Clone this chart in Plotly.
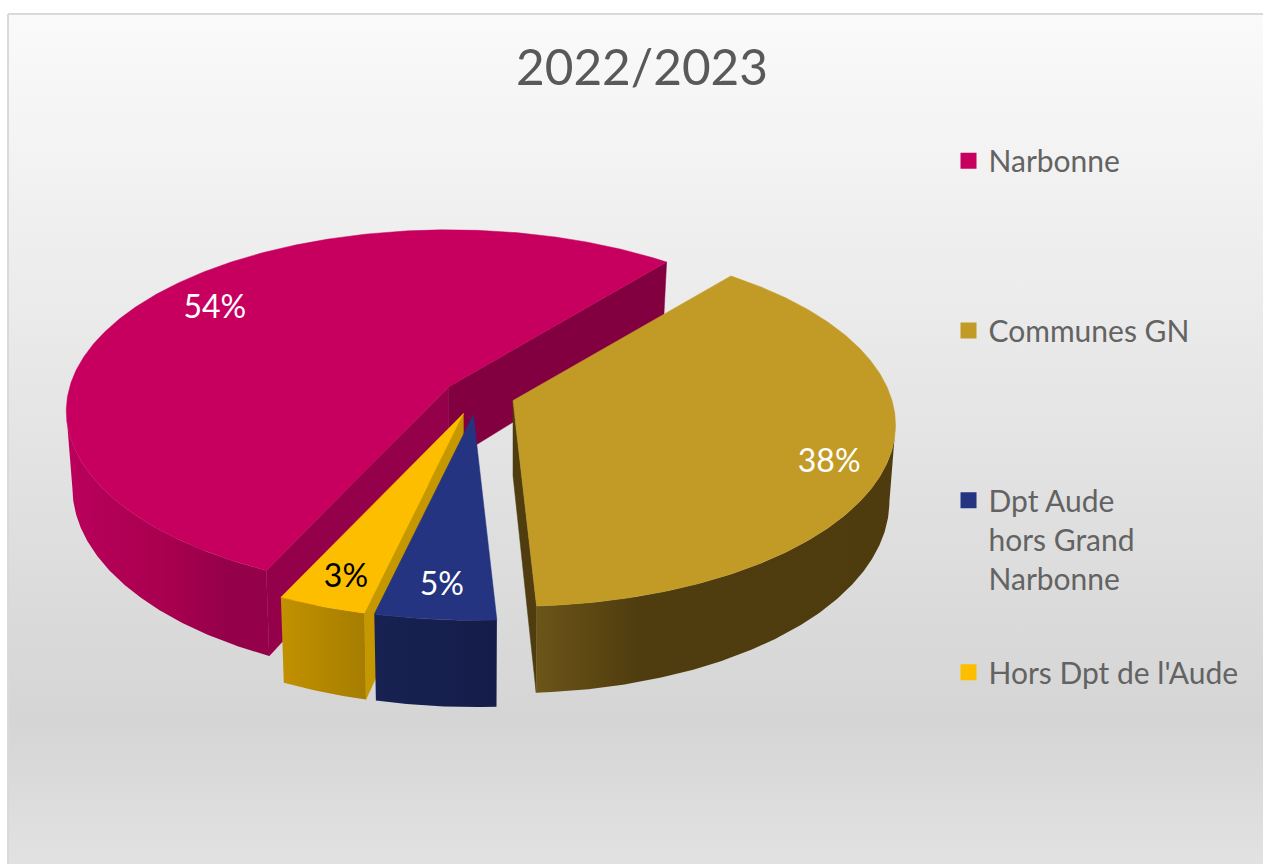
import math
import numpy as np
import plotly.graph_objects as go

# ---- data ----
TITLE = "2022/2023"
categories = ["Narbonne", "Communes GN", "Dpt Aude<br>hors Grand<br>Narbonne", "Hors Dpt de l'Aude"]
values = [54.0, 38.2, 4.5, 3.3]
labels = ["54%", "38%", "5%", "3%"]

# ---- styles ----
top_colors = ["#C70060", "#C29B27", "#253481", "#FDBE00"]
label_colors = ["white", "white", "white", "black"]
pull = [0.088, 0.10, 0.11, 0.11]
label_angle = [305.0, 113.0, 184.9, 198.4]
label_radius = [0.80, 0.865, 0.862, 0.872]
cut_colors = {
    0: {"start": "#95004A", "end": "#82003F"},
    1: {"start": None, "end": "#4F3C0F"},
    2: {"start": None, "end": None},
    3: {"start": "#C69800", "end": None},
}
wall_scales = [
    [[0, "#BA005C"], [0.5, "#A8004F"], [0.8, "#95004A"], [1, "#95004A"]],
    [[0, "#6C5518"], [0.28, "#503D0F"], [1, "#4E3B0E"]],
    [[0, "#182252"], [1, "#141D49"]],
    [[0, "#C29100"], [1, "#A67D00"]],
]
draw_order = [0, 1, 3, 2]

START = 205.0        # first slice angle, degrees clockwise from the back
CX, CY = 477.0, 395.0
A, B, K = 379.0, 178.0, 0.135   # disc half-axes and perspective strength
H = 75.0             # thickness
SHRINK = 0.016       # bottom face is a little further away


def project(apex, X, Y, z=0.0):
    w = 1 - K * Y
    return (apex[0] + A * X / w * (1 - SHRINK * z),
            apex[1] + (B * Y + H * z) / w)


def disc(deg):
    r = math.radians(deg)
    return math.sin(r), -math.cos(r)


total = sum(values)
edges = [START]
for v in values:
    edges.append(edges[-1] + 360.0 * v / total)

fig = go.Figure()

# panel background with vertical gradient (stop 0 is the bottom of the panel)
fig.add_trace(go.Scatter(
    x=[8, 1265, 1265, 8, 8], y=[14, 14, 866, 866, 14], mode="lines", fill="toself",
    line=dict(color="#D9D9D9", width=2),
    fillgradient=dict(type="vertical",
                      colorscale=[[0, "#E2E2E2"], [0.17, "#D5D5D5"], [0.31, "#DBDBDB"],
                                  [0.66, "#EBEBEB"], [1, "#FAFAFA"]]),
    hoverinfo="skip", showlegend=False))

label_x, label_y = [], []
apexes = {}
for i in range(len(values)):
    a0, a1 = edges[i], edges[i + 1]
    mx, my = disc((a0 + a1) / 2)
    apexes[i] = (CX + A * pull[i] * mx, CY + B * pull[i] * my)
    lx, ly = disc(label_angle[i])
    px, py = project(apexes[i], lx * label_radius[i], ly * label_radius[i])
    label_x.append(px)
    label_y.append(py)


def poly(xs, ys, color=None, scale=None):
    kw = dict(x=xs, y=ys, mode="lines", fill="toself", hoverinfo="skip", showlegend=False)
    if scale is not None:
        kw["fillgradient"] = dict(type="horizontal", colorscale=scale)
        kw["line"] = dict(width=0, color="rgba(0,0,0,0)")
    else:
        kw["fillcolor"] = color
        kw["line"] = dict(width=0.5, color=color)
    fig.add_trace(go.Scatter(**kw))


for i in draw_order:
    a0, a1 = edges[i], edges[i + 1]
    apex = apexes[i]
    # flat cut faces that turn towards the viewer
    for key, ang in (("start", a0), ("end", a1)):
        col = cut_colors[i][key]
        if col is None:
            continue
        X, Y = disc(ang)
        pts = [project(apex, 0, 0), project(apex, X, Y), project(apex, X, Y, 1), project(apex, 0, 0, 1)]
        poly([p[0] for p in pts] + [pts[0][0]], [p[1] for p in pts] + [pts[0][1]], color=col)
    # outer rim: stops where the disc reaches its widest point on screen (the silhouette)
    arc = np.arange(a0, a1 + 0.25, 0.5)
    arc = np.append(arc[arc < a1], a1)
    front = [d for d in arc if disc(d)[1] >= K]
    if front:
        top = [project(apex, *disc(d)) for d in front]
        bot = [project(apex, *disc(d), 1) for d in front[::-1]]
        pts = top + bot + [top[0]]
        poly([p[0] for p in pts], [p[1] for p in pts], scale=wall_scales[i])
    # top face
    pts = [project(apex, 0, 0)] + [project(apex, *disc(d)) for d in arc] + [project(apex, 0, 0)]
    poly([p[0] for p in pts], [p[1] for p in pts], color=top_colors[i])

# percentage labels
fig.add_trace(go.Scatter(
    x=label_x, y=label_y, text=labels, mode="text", textposition="middle center",
    textfont=dict(family="Lato", size=32, color=label_colors),
    hoverinfo="skip", showlegend=False))

# legend: one box per entry, spaced as in the reference
legend_pos = [(0.7510, 0.8440), (0.7510, 0.6475), (0.7510, 0.4510), (0.7510, 0.2520)]
layout_legends = {}
for i, cat in enumerate(categories):
    name = "legend" if i == 0 else f"legend{i + 1}"
    fig.add_trace(go.Scatter(
        x=[None], y=[None], mode="markers", name=cat,
        marker=dict(symbol="square", size=17, color=top_colors[i]),
        legend=name, showlegend=True))
    layout_legends[name] = dict(
        x=legend_pos[i][0], y=legend_pos[i][1], xanchor="left", yanchor="top",
        bgcolor="rgba(0,0,0,0)", borderwidth=0, itemwidth=30, valign="top",
        font=dict(family="Lato", size=30, color="#636363"),
        itemclick=False, itemdoubleclick=False)

fig.update_layout(
    width=1263, height=864, margin=dict(l=0, r=0, t=0, b=0),
    paper_bgcolor="white", plot_bgcolor="rgba(0,0,0,0)",
    xaxis=dict(range=[0, 1263], visible=False, fixedrange=True),
    yaxis=dict(range=[864, 0], visible=False, fixedrange=True),
    title=dict(text=TITLE, x=642 / 1263, y=1 - 68 / 864, xanchor="center", yanchor="middle",
               font=dict(family="Lato", size=49.5, color="#595959")),
    **layout_legends)

fig.write_html("out.html", config={"displayModeBar": False},
               post_script="document.body.style.margin='0';document.documentElement.style.overflow='hidden';")
